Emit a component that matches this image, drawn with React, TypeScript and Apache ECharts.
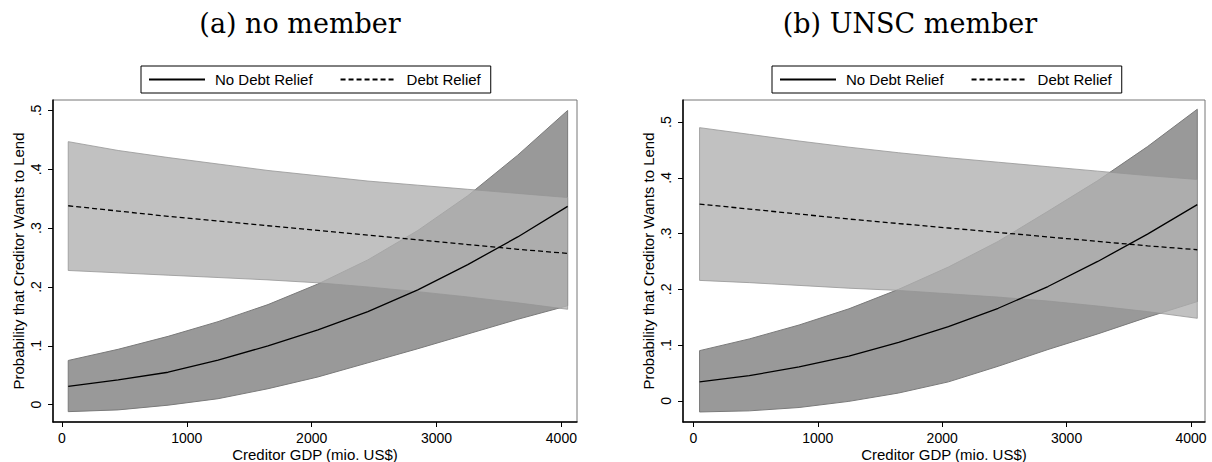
import React, { useEffect, useRef } from 'react';
import * as echarts from 'echarts';

// ---- data ----
const xs = [50, 450, 850, 1250, 1650, 2050, 2450, 2850, 3250, 3650, 4050];

// panel (a) no member
const aNoRelief = [0.031, 0.042, 0.055, 0.0755, 0.1, 0.127, 0.158, 0.195, 0.238, 0.285, 0.337];
const aNoReliefLo = [-0.012, -0.009, -0.001, 0.01, 0.027, 0.047, 0.071, 0.095, 0.12, 0.145, 0.168];
const aNoReliefHi = [0.075, 0.094, 0.116, 0.141, 0.17, 0.205, 0.246, 0.296, 0.355, 0.424, 0.5];
const aRelief = [0.338, 0.329, 0.32, 0.312, 0.304, 0.296, 0.288, 0.28, 0.272, 0.264, 0.257];
const aReliefLo = [0.228, 0.224, 0.22, 0.216, 0.212, 0.207, 0.2, 0.192, 0.183, 0.173, 0.162];
const aReliefHi = [0.447, 0.432, 0.42, 0.409, 0.398, 0.389, 0.38, 0.373, 0.366, 0.359, 0.352];

// panel (b) UNSC member
const bNoRelief = [0.034, 0.045, 0.061, 0.08, 0.105, 0.133, 0.166, 0.205, 0.25, 0.299, 0.352];
const bNoReliefLo = [-0.02, -0.018, -0.012, -0.001, 0.014, 0.034, 0.062, 0.092, 0.12, 0.15, 0.178];
const bNoReliefHi = [0.09, 0.111, 0.136, 0.165, 0.2, 0.24, 0.286, 0.34, 0.395, 0.456, 0.523];
const bRelief = [0.353, 0.344, 0.335, 0.326, 0.318, 0.31, 0.302, 0.294, 0.286, 0.278, 0.271];
const bReliefLo = [0.216, 0.212, 0.207, 0.202, 0.198, 0.192, 0.186, 0.179, 0.17, 0.16, 0.148];
const bReliefHi = [0.49, 0.478, 0.466, 0.455, 0.445, 0.436, 0.428, 0.42, 0.412, 0.404, 0.397];

const xTicks = [0, 1000, 2000, 3000, 4000];
const yTicks = [0, 0.1, 0.2, 0.3, 0.4, 0.5];
const seriesNames = ['No Debt Relief', 'Debt Relief'];
const panelTitles = ['(a) no member', '(b) UNSC member'];
const xTitle = 'Creditor GDP (mio. US$)';
const yTitle = 'Probability that Creditor Wants to Lend';

const SANS = '"Liberation Sans", Arial, Helvetica, sans-serif';
const SERIF = '"DejaVu Serif", "Liberation Serif", serif';

function band(name: string, lo: number[], hi: number[], idx: number, fill: string, stroke: string, z: number) {
  return {
    type: 'custom',
    name,
    xAxisIndex: idx,
    yAxisIndex: idx,
    z,
    silent: true,
    data: xs.map((x, i) => [x, lo[i], hi[i]]),
    encode: { x: 0, y: [1, 2] },
    renderItem: (params: any, api: any) => {
      if (params.dataIndex !== 0) return null;
      const pts: number[][] = [];
      for (let i = 0; i < xs.length; i++) pts.push(api.coord([xs[i], hi[i]]));
      for (let i = xs.length - 1; i >= 0; i--) pts.push(api.coord([xs[i], lo[i]]));
      return { type: 'polygon', shape: { points: pts }, style: { fill, stroke, lineWidth: 1 } };
    },
  };
}

function line(name: string, vals: number[], idx: number, dashed: boolean) {
  return {
    type: 'line',
    name,
    xAxisIndex: idx,
    yAxisIndex: idx,
    z: 5,
    symbol: 'none',
    showSymbol: false,
    silent: true,
    data: xs.map((x, i) => [x, vals[i]]),
    lineStyle: { color: '#000', width: 1.3, type: dashed ? [5, 3] : 'solid' },
    itemStyle: { color: '#000', opacity: 0 },
  };
}

function xAxis(idx: number, min: number, max: number) {
  return {
    type: 'value',
    gridIndex: idx,
    min,
    max,
    name: xTitle,
    nameLocation: 'middle',
    nameGap: 25,
    nameMoveOverlap: false,
    nameTextStyle: { fontFamily: SANS, fontSize: 15, color: '#000' },
    axisLine: { show: true, onZero: false, lineStyle: { color: '#000', width: 1.5 } },
    axisTick: { show: true, length: 5, customValues: xTicks, lineStyle: { color: '#000', width: 1 } },
    axisLabel: {
      customValues: xTicks,
      margin: 9,
      fontFamily: SANS,
      fontSize: 14,
      color: '#000',
      formatter: (v: number) => String(Math.round(v)),
    },
    splitLine: { show: false },
  };
}

function yAxis(idx: number, min: number, max: number) {
  return {
    type: 'value',
    gridIndex: idx,
    min,
    max,
    name: yTitle,
    nameLocation: 'middle',
    nameGap: 27,
    nameMoveOverlap: false,
    nameTextStyle: { fontFamily: SANS, fontSize: 15, color: '#000' },
    axisLine: { show: true, onZero: false, lineStyle: { color: '#000', width: 1.5 } },
    axisTick: { show: true, length: 5, customValues: yTicks, lineStyle: { color: '#000', width: 1 } },
    axisLabel: {
      customValues: yTicks,
      rotate: 90,
      margin: 10,
      fontFamily: SANS,
      fontSize: 14,
      color: '#000',
      formatter: (v: number) => (Math.abs(v) < 1e-9 ? '0' : String(+v.toFixed(1)).replace(/^0\./, '.')),
    },
    splitLine: { show: false },
  };
}

function legend(left: number) {
  return {
    left,
    top: 66,
    orient: 'horizontal',
    data: seriesNames,
    itemWidth: 56,
    itemHeight: 14,
    itemGap: 27,
    padding: [6, 10, 6, 7],
    borderColor: '#000',
    borderWidth: 1,
    backgroundColor: '#fff',
    selectedMode: false,
    itemStyle: { opacity: 0 },
    textStyle: { fontFamily: SANS, fontSize: 15, color: '#000', padding: [0, 0, 0, 5] },
  };
}

export default function App() {
  const ref = useRef<HTMLDivElement>(null);
  useEffect(() => {
    if (!ref.current) return;
    const chart = echarts.init(ref.current, undefined, { renderer: 'svg' });
    chart.setOption({
      animation: false,
      backgroundColor: '#fff',
      graphic: [
        { type: 'text', x: 300, y: 23, style: { text: panelTitles[0], fontFamily: SERIF, fontSize: 27, fill: '#000', textAlign: 'center', textVerticalAlign: 'middle' } },
        { type: 'text', x: 910, y: 23, style: { text: panelTitles[1], fontFamily: SERIF, fontSize: 27, fill: '#000', textAlign: 'center', textVerticalAlign: 'middle' } },
      ],
      legend: [legend(141), legend(772)],
      grid: [
        { left: 53, top: 100, width: 524, height: 322, show: true, borderColor: '#777', borderWidth: 1, backgroundColor: 'transparent', outerBoundsMode: 'none', containLabel: false },
        { left: 683, top: 100, width: 522, height: 322, show: true, borderColor: '#777', borderWidth: 1, backgroundColor: 'transparent', outerBoundsMode: 'none', containLabel: false },
      ],
      xAxis: [xAxis(0, -72, 4125), xAxis(1, -83, 4112)],
      yAxis: [yAxis(0, -0.0296, 0.5178), yAxis(1, -0.038, 0.5396)],
      series: [
        band('No Debt Relief CI', aNoReliefLo, aNoReliefHi, 0, '#999999', '#7a7a7a', 1),
        band('Debt Relief CI', aReliefLo, aReliefHi, 0, 'rgba(177,177,177,0.8)', 'rgba(150,150,150,0.8)', 2),
        line(seriesNames[0], aNoRelief, 0, false),
        line(seriesNames[1], aRelief, 0, true),
        band('No Debt Relief CI', bNoReliefLo, bNoReliefHi, 1, '#999999', '#7a7a7a', 1),
        band('Debt Relief CI', bReliefLo, bReliefHi, 1, 'rgba(177,177,177,0.8)', 'rgba(150,150,150,0.8)', 2),
        line(seriesNames[0], bNoRelief, 1, false),
        line(seriesNames[1], bRelief, 1, true),
      ],
    });
    return () => chart.dispose();
  }, []);
  return <div ref={ref} style={{ position: 'fixed', left: 0, top: 0, width: 1212, height: 462 }} />;
}
